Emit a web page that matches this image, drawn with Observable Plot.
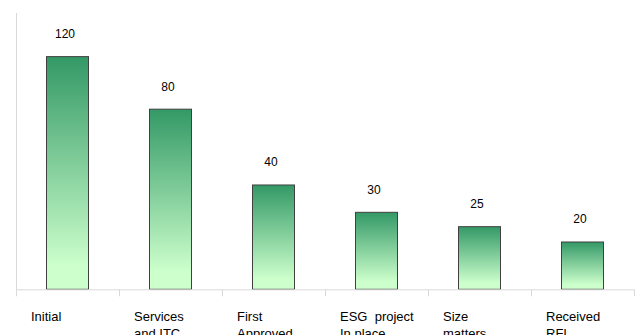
<!DOCTYPE html>
<html>
<head>
<meta charset="utf-8">
<script src="https://cdn.jsdelivr.net/npm/d3@7"></script>
<script src="https://cdn.jsdelivr.net/npm/@observablehq/plot@0.6"></script>
<style>
  html, body { margin: 0; padding: 0; background: #fff; }
  #chart svg { display: block; font-family: "Liberation Sans", Arial, sans-serif; }
</style>
</head>
<body>
<div id="chart"></div>
<script>
// Categories (multi-line labels)
const categories = ["Initial", "Services\nand ITC", "First\nApproved", "ESG  project\nIn place", "Size\nmatters", "Received\nRFI"];
// Printed value labels
const valueLabels = [120, 80, 40, 30, 25, 20];
// Bar heights as drawn in the picture (same units, 120 = tallest bar)
const barHeights = [120, 92.9, 53.8, 39.7, 32.3, 24.4];

const data = categories.map((c, i) => ({i, category: c, label: valueLabels[i], h: barHeights[i]}));

const gradient = () => {
  const defs = d3.create("svg:defs");
  const g = defs.append("linearGradient")
    .attr("id", "barGrad").attr("x1", 0).attr("y1", 0).attr("x2", 0).attr("y2", 1);
  g.append("stop").attr("offset", "0%").attr("stop-color", "#339966");
  g.append("stop").attr("offset", "90%").attr("stop-color", "#ccffcc");
  g.append("stop").attr("offset", "100%").attr("stop-color", "#ccffcc");
  return defs.node();
};

const chart = Plot.plot({
  width: 635,
  height: 335,
  marginLeft: 16,
  marginRight: 1,
  marginTop: 13,
  marginBottom: 45.7,
  style: {color: "#d9d9d9", fontFamily: "Liberation Sans, Arial, sans-serif", background: "#fff"},
  x: {domain: [0, categories.length], ticks: d3.range(categories.length + 1), tickSize: 7, tickFormat: () => "", label: null},
  y: {domain: [0, 142.5], axis: null},
  marks: [
    gradient,
    Plot.ruleX([0], {stroke: "#d9d9d9"}),
    Plot.rectY(data, {x1: "i", x2: d => d.i + 1, y1: 0, y2: "h", insetLeft: 30.5, insetRight: 30.5, fill: "url(#barGrad)", stroke: "#404040", strokeWidth: 1}),
    Plot.ruleY([0], {stroke: "#d9d9d9"}),
    Plot.text(data, {x: d => d.i + 0.5, y: "h", text: d => String(d.label), dy: -23, dx: -3, fill: "#000", fontSize: 12, lineAnchor: "middle"}),
    Plot.text(data, {x: d => d.i + 0.5, y: 0, text: "category", dy: 19, dx: -37, textAnchor: "start", lineAnchor: "top", lineHeight: 1.33, fill: "#000", fontSize: 13})
  ]
});
document.getElementById("chart").appendChild(chart);
</script>
</body>
</html>
